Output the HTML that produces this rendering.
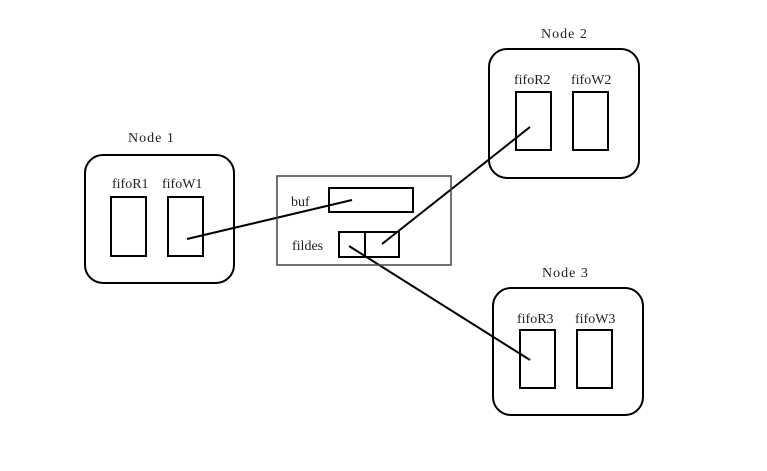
<!DOCTYPE html>
<html><head><meta charset="utf-8"><style>html,body{margin:0;padding:0;background:#fff}svg{display:block}text{font-family:"Liberation Serif",serif;font-size:14px;fill:#222}</style></head><body>
<svg width="767" height="471" viewBox="0 0 767 471" xmlns="http://www.w3.org/2000/svg">
<rect width="767" height="471" fill="#fff"/>
<g fill="none" stroke="#000" stroke-width="2">
<rect x="85" y="155" width="149" height="128" rx="18"/>
<rect x="111" y="197" width="35" height="59"/>
<rect x="168" y="197" width="35" height="59"/>
<rect x="489" y="49" width="150" height="129" rx="18"/>
<rect x="516" y="92" width="35" height="58"/>
<rect x="573" y="92" width="35" height="58"/>
<rect x="493" y="288" width="150" height="127" rx="18"/>
<rect x="520" y="330" width="35" height="58"/>
<rect x="577" y="330" width="35" height="58"/>
<rect x="329" y="188" width="84" height="24"/>
<rect x="339" y="232" width="26" height="25"/>
<rect x="365" y="232" width="34" height="25"/>
<line x1="187" y1="239" x2="352" y2="200"/>
<line x1="382" y1="244" x2="530" y2="127"/>
<line x1="349" y1="246" x2="530" y2="360"/>
</g>
<rect x="277" y="176" width="174" height="89" fill="none" stroke="#444" stroke-width="1.5"/>
<text x="128" y="142" letter-spacing="1">Node 1</text>
<text x="112" y="188">fifoR1</text>
<text x="162" y="188">fifoW1</text>
<text x="541" y="38" letter-spacing="1">Node 2</text>
<text x="514" y="84">fifoR2</text>
<text x="571" y="84">fifoW2</text>
<text x="542" y="277" letter-spacing="1">Node 3</text>
<text x="517" y="323">fifoR3</text>
<text x="575" y="323">fifoW3</text>
<text x="291" y="206">buf</text>
<text x="292" y="250">fildes</text>
</svg>
</body></html>
